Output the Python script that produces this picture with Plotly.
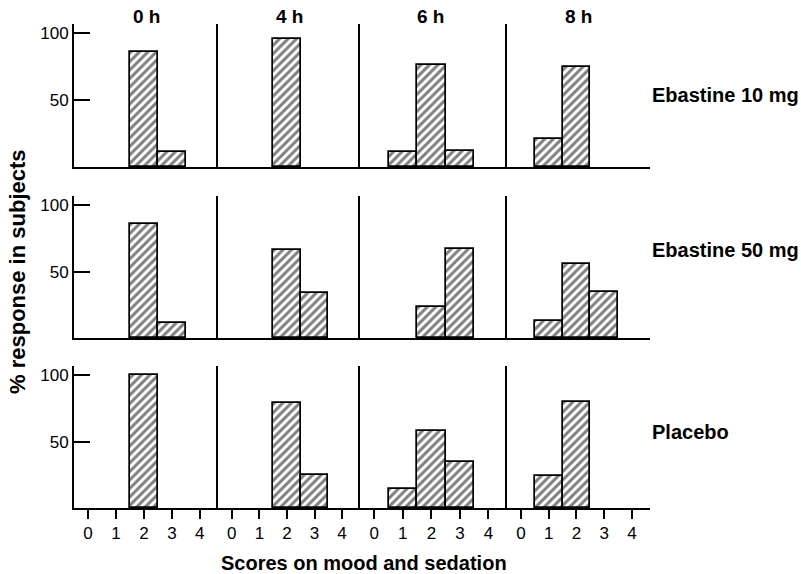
import plotly.graph_objects as go

W, H = 801, 574

# ---- data ----
scores = [0, 1, 2, 3, 4]
score_labels = ["0", "1", "2", "3", "4"]
times = ["0 h", "4 h", "6 h", "8 h"]
groups = ["Ebastine 10 mg", "Ebastine 50 mg", "Placebo"]

ebastine10 = [
    [0, 0, 86, 11, 0],   # 0 h
    [0, 0, 96, 0, 0],    # 4 h
    [0, 11, 76, 12, 0],  # 6 h
    [0, 21, 75, 0, 0],   # 8 h
]
ebastine50 = [
    [0, 0, 86, 11, 0],
    [0, 0, 66, 34, 0],
    [0, 0, 23, 67, 0],
    [0, 13, 56, 35, 0],
]
placebo = [
    [0, 0, 100, 0, 0],
    [0, 0, 79, 25, 0],
    [0, 14, 58, 35, 0],
    [0, 24, 80, 0, 0],
]
all_values = [ebastine10, ebastine50, placebo]

# ---- layout geometry (pixels) ----
col_px = [(74, 218), (218, 360), (360, 507), (507, 650)]
row_px = [(24, 167), (196, 338), (366, 508)]
title_x_px = [146, 289, 430, 578]
label_y_px = [95, 250, 432]

FONT = "Liberation Sans, Arial, Helvetica, sans-serif"
LW = 1.8

def fx(px):
    return px / W

def fy(py):
    return 1 - py / H

fig = go.Figure()
layout = {}
n = 0
for r, grp_vals in enumerate(all_values):
    for c, vals in enumerate(grp_vals):
        n += 1
        xs = [s for s, v in zip(scores, vals) if v > 0]
        ys = [v for v in vals if v > 0]
        fig.add_trace(go.Bar(
            x=xs, y=ys, width=1.0,
            xaxis=f"x{n}", yaxis=f"y{n}",
            marker=dict(
                color="white",
                line=dict(color="black", width=1.7),
                pattern=dict(shape="/", fgcolor="black", bgcolor="white",
                             size=6, solidity=0.5),
            ),
            showlegend=False, hoverinfo="skip",
        ))
        bottom = (r == 2)
        xa = dict(
            domain=[fx(col_px[c][0]), fx(col_px[c][1])],
            range=[-0.5, 4.65],
            anchor=f"y{n}",
            showline=True, linecolor="black", linewidth=LW,
            showgrid=False, zeroline=False,
            fixedrange=True,
        )
        if bottom:
            xa.update(tickmode="array", tickvals=scores, ticktext=score_labels,
                      ticks="outside", ticklen=9, tickwidth=LW, tickcolor="black",
                      tickfont=dict(family=FONT, size=17, color="black"))
        else:
            xa.update(showticklabels=False, ticks="")
        ya = dict(
            domain=[fy(row_px[r][1]), fy(row_px[r][0])],
            range=[0, 107],
            anchor=f"x{n}",
            showline=True, linecolor="black", linewidth=LW,
            showgrid=False, zeroline=False,
            fixedrange=True,
        )
        if c == 0:
            ya.update(tickmode="array", tickvals=[50, 100], ticktext=["50", "100"],
                      ticks="inside", ticklen=16, tickwidth=LW, tickcolor="black",
                      tickfont=dict(family=FONT, size=17, color="black"))
        else:
            ya.update(showticklabels=False, ticks="")
        key = "" if n == 1 else str(n)
        layout[f"xaxis{key}"] = xa
        layout[f"yaxis{key}"] = ya

annotations = []
for t, xp in zip(times, title_x_px):
    annotations.append(dict(text=f"<b>{t}</b>", x=fx(xp), y=fy(17), xref="paper", yref="paper",
                            showarrow=False, xanchor="center", yanchor="middle",
                            font=dict(family=FONT, size=19, color="black")))
for g, yp in zip(groups, label_y_px):
    annotations.append(dict(text=f"<b>{g}</b>", x=fx(650), y=fy(yp), xref="paper", yref="paper",
                            showarrow=False, xanchor="left", yanchor="middle",
                            font=dict(family=FONT, size=20, color="black")))
annotations.append(dict(text="<b>Scores on mood and sedation</b>", x=fx(364), y=fy(563),
                        xref="paper", yref="paper", showarrow=False,
                        xanchor="center", yanchor="middle",
                        font=dict(family=FONT, size=20, color="black")))
annotations.append(dict(text="<b>% response in subjects</b>", x=fx(17), y=fy(272),
                        xref="paper", yref="paper", showarrow=False, textangle=-90,
                        xanchor="center", yanchor="middle",
                        font=dict(family=FONT, size=22, color="black")))

fig.update_layout(
    width=W, height=H,
    margin=dict(l=0, r=0, t=0, b=0),
    paper_bgcolor="white", plot_bgcolor="white",
    bargap=0, barmode="overlay",
    annotations=annotations,
    font=dict(family=FONT, color="black"),
    **layout,
)

fig.write_html(
    "out.html",
    config={"displayModeBar": False},
    post_script="document.body.style.margin='0';document.body.style.overflow='hidden';",
)
